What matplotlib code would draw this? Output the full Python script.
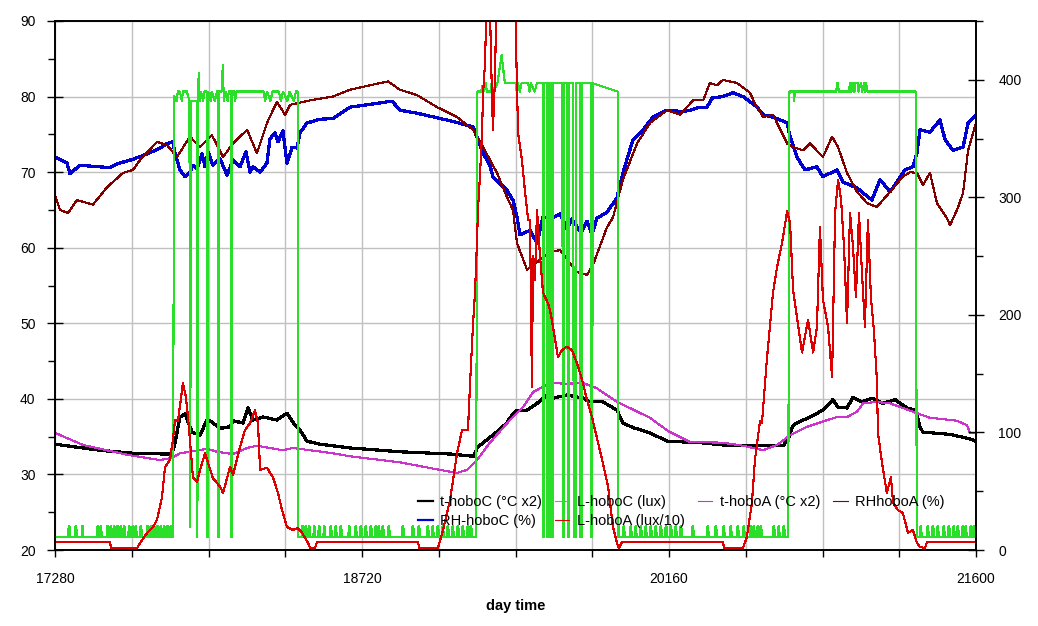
import numpy as np
import matplotlib
matplotlib.use("Agg")
import matplotlib.pyplot as plt
from matplotlib.ticker import MultipleLocator

plt.rcParams['font.family'] = ['Liberation Sans', 'DejaVu Sans']

# time in minutes (day 12 00:00 .. day 15 00:00)

# t-hoboC (degC x2) - left axis
tc_t = [17280, 17491, 17646, 17805, 17829, 17843, 17866, 17890, 17913, 17923, 17960, 17993,
        18007, 18054, 18101, 18115, 18162, 18185, 18209, 18256, 18321, 18368, 18396, 18420,
        18429, 18462, 18523, 18664, 18898, 19133, 19245, 19259, 19288, 19334, 19400, 19414,
        19447, 19494, 19541, 19588, 19616, 19681, 19756, 19789, 19850, 19916, 19944, 19991,
        20071, 20151, 20306, 20413, 20573, 20695, 20719, 20742, 20760, 20821, 20882, 20929,
        20953, 20995, 21023, 21065, 21112, 21164, 21220, 21276, 21318, 21337, 21351, 21478,
        21558, 21600]
tc_v = [34.0, 33.2, 32.8, 32.7, 32.7, 34.2, 37.6, 38.0, 36.3, 35.6, 35.2, 37.2,
        37.1, 36.1, 36.3, 37.1, 36.8, 38.8, 37.2, 37.6, 37.2, 38.1, 36.9, 36.1,
        35.9, 34.4, 34.0, 33.5, 33.0, 32.7, 32.4, 33.5, 34.2, 35.2, 36.8, 37.5,
        38.5, 38.5, 39.4, 40.5, 40.1, 40.5, 40.1, 39.6, 39.6, 38.5, 36.8, 36.2,
        35.5, 34.4, 34.2, 33.9, 33.8, 33.8, 34.6, 36.5, 36.8, 37.6, 38.5, 39.9,
        38.9, 38.8, 40.2, 39.6, 40.1, 39.4, 39.9, 38.8, 38.5, 36.3, 35.6, 35.3,
        34.8, 34.4]

# RH-hoboC (%) - left axis
rhc_t = [17280, 17336, 17350, 17397, 17491, 17538, 17571, 17646, 17712, 17773, 17805, 17833,
         17843, 17866, 17890, 17913, 17927, 17946, 17970, 17984, 17998, 18021, 18054, 18087,
         18115, 18148, 18176, 18195, 18209, 18242, 18274, 18288, 18312, 18326, 18349, 18368,
         18392, 18415, 18429, 18462, 18523, 18584, 18664, 18790, 18861, 18898, 18978, 19133,
         19241, 19250, 19288, 19320, 19334, 19400, 19428, 19447, 19461, 19508, 19541, 19569,
         19602, 19649, 19681, 19705, 19747, 19775, 19799, 19822, 19869, 19916, 19944, 19991,
         20038, 20085, 20151, 20226, 20259, 20306, 20338, 20362, 20413, 20460, 20507, 20573,
         20601, 20667, 20714, 20728, 20760, 20798, 20854, 20882, 20948, 20976, 21042, 21112,
         21150, 21197, 21267, 21304, 21323, 21337, 21384, 21431, 21455, 21492, 21539, 21563,
         21600]
rhc_v = [72.0, 71.2, 69.8, 70.9, 70.7, 70.6, 71.1, 71.7, 72.4, 73.2, 73.8, 74.0,
         72.5, 70.3, 69.4, 70.0, 70.9, 70.5, 72.4, 70.7, 72.7, 70.9, 71.8, 69.6,
         71.6, 70.7, 72.7, 70.0, 70.7, 70.0, 71.2, 74.4, 75.2, 74.0, 75.5, 71.2,
         73.3, 73.2, 75.2, 76.5, 77.0, 77.1, 78.6, 79.1, 79.4, 78.2, 77.8, 76.8,
         76.0, 75.3, 72.5, 70.9, 69.4, 67.6, 66.3, 64.1, 61.7, 62.3, 60.6, 64.1,
         63.8, 64.5, 62.5, 63.8, 62.0, 63.5, 61.8, 63.9, 64.7, 66.6, 69.9, 74.3,
         75.6, 77.3, 78.2, 78.0, 78.2, 78.6, 78.6, 79.8, 80.0, 80.5, 80.0, 78.6,
         77.6, 77.1, 76.5, 74.7, 72.0, 70.3, 70.7, 69.4, 70.3, 68.7, 67.9, 66.3,
         69.0, 67.4, 70.3, 70.7, 72.5, 75.6, 75.3, 76.9, 74.3, 72.9, 73.3, 76.5,
         77.6]

# t-hoboA (degC x2) - left axis
ta_t = [17280, 17411, 17618, 17773, 17829, 17866, 17913, 17993, 18040, 18115, 18181, 18227,
        18349, 18396, 18584, 18664, 18898, 19086, 19166, 19212, 19259, 19320, 19414, 19475,
        19522, 19602, 19681, 19756, 19822, 19916, 20071, 20118, 20165, 20259, 20413, 20507,
        20601, 20667, 20728, 20807, 20882, 20948, 20995, 21042, 21070, 21135, 21197, 21257,
        21323, 21384, 21511, 21558, 21572, 21600]
ta_v = [35.5, 33.9, 32.6, 31.9, 32.2, 32.8, 33.0, 33.4, 33.0, 32.7, 33.5, 33.8,
        33.2, 33.5, 32.8, 32.4, 31.6, 30.6, 30.2, 30.6, 31.9, 34.2, 37.2, 38.9,
        40.9, 42.1, 42.0, 42.1, 41.4, 39.6, 37.5, 36.5, 35.6, 34.3, 34.2, 33.8,
        33.2, 33.9, 35.2, 36.3, 37.0, 37.6, 37.6, 38.3, 39.4, 39.6, 39.4, 38.8,
        38.1, 37.5, 37.1, 36.5, 35.5, 35.5]

# RHhoboA (%) - left axis
rha_t = [17280, 17303, 17341, 17383, 17458, 17524, 17599, 17646, 17679, 17758, 17805, 17852,
         17913, 17960, 18016, 18068, 18115, 18181, 18227, 18274, 18321, 18359, 18382, 18476,
         18584, 18664, 18757, 18842, 18898, 18978, 19072, 19166, 19241, 19288, 19353, 19400,
         19428, 19447, 19494, 19602, 19649, 19728, 19775, 19803, 19869, 19897, 19944, 20010,
         20071, 20151, 20212, 20273, 20320, 20352, 20385, 20413, 20479, 20540, 20563, 20601,
         20648, 20714, 20742, 20789, 20821, 20882, 20925, 20953, 20995, 21042, 21089, 21135,
         21197, 21257, 21290, 21323, 21351, 21384, 21417, 21464, 21478, 21511, 21539, 21563,
         21600]
rha_v = [67.0, 65.0, 64.6, 66.3, 65.7, 68.0, 69.9, 70.3, 71.6, 74.0, 73.6, 72.0,
         74.7, 73.3, 74.9, 72.0, 73.8, 75.6, 72.5, 76.5, 79.3, 77.6, 78.9, 79.5,
         80.0, 80.9, 81.5, 82.0, 80.9, 80.2, 78.6, 77.3, 75.6, 73.3, 69.9, 66.7,
         65.0, 60.6, 57.1, 59.4, 59.7, 56.8, 56.4, 57.7, 62.7, 64.0, 69.0, 73.8,
         76.5, 78.2, 77.6, 79.5, 79.5, 81.8, 81.5, 82.2, 81.8, 80.5, 79.1, 77.3,
         77.6, 73.8, 73.3, 72.9, 73.8, 72.0, 74.7, 73.3, 69.9, 67.4, 65.9, 65.4,
         67.4, 69.4, 70.0, 69.9, 68.3, 69.9, 65.9, 63.9, 63.0, 65.0, 67.2, 72.9,
         76.5]

# L-hoboA (lux/10) - right axis
la_t = [17280, 17538, 17543, 17665, 17679, 17712, 17740, 17758, 17782, 17796, 17819, 17833,
        17843, 17857, 17880, 17894, 17904, 17913, 17927, 17946, 17960, 17984, 17998, 18021,
        18054, 18068, 18101, 18115, 18148, 18171, 18195, 18218, 18232, 18242, 18274, 18302,
        18326, 18345, 18368, 18396, 18420, 18439, 18467, 18476, 18500, 18509, 18983, 18988,
        19076, 19100, 19133, 19166, 19189, 19217, 19227, 19241, 19250, 19259, 19264, 19274,
        19283, 19288, 19297, 19306, 19316, 19325, 19334, 19344, 19353, 19400, 19428, 19437,
        19442, 19452, 19470, 19485, 19499, 19508, 19517, 19522, 19531, 19541, 19555, 19569,
        19592, 19602, 19616, 19639, 19658, 19681, 19705, 19728, 19752, 19775, 19799, 19813,
        19850, 19874, 19897, 19916, 19925, 19939, 20413, 20418, 20507, 20525, 20549, 20563,
        20577, 20587, 20596, 20619, 20648, 20667, 20690, 20714, 20728, 20742, 20784, 20812,
        20836, 20854, 20868, 20882, 20906, 20925, 20939, 20953, 20967, 20981, 20995, 21009,
        21023, 21037, 21051, 21065, 21079, 21093, 21107, 21121, 21135, 21140, 21159, 21182,
        21201, 21211, 21234, 21257, 21281, 21304, 21323, 21337, 21361, 21370, 21600]
la_v = [6.8, 6.8, 1.7, 1.7, 6.0, 14.5, 19.6, 25.5, 45, 70.6, 76.6, 93.6,
        110.6, 110, 142, 130, 113, 93.6, 62, 58, 68, 82.5, 74, 61,
        54, 48.5, 70.6, 64, 87.6, 102, 108, 119, 108, 68, 70, 62,
        48.5, 34, 19.6, 17, 18.7, 14.5, 6, 1.7, 1.7, 6.8, 6.8, 1.7,
        1.7, 17, 42.5, 82.5, 102, 102, 142, 193, 219, 261, 289, 321,
        355, 389, 414, 480, 500, 420, 357, 402, 500, 520, 500, 480,
        434, 355, 332, 304, 281, 281, 139, 250, 230, 289, 250, 219,
        210, 204, 190, 164, 170, 173, 170, 159, 145, 128, 113, 102,
        74, 54, 19.6, 6, 1.7, 6.8, 6.8, 1.7, 1.7, 11, 40, 76.6,
        96, 110, 108, 162, 219, 241, 261, 288, 278, 221, 168, 196,
        168, 190, 275, 213, 190, 147, 287, 315, 298, 258, 193, 287,
        258, 215, 287, 236, 190, 281, 215, 187, 145, 100, 74, 48.5,
        62, 40, 34, 31.5, 14.5, 17, 6, 2.6, 1.7, 6.8, 6.8]

# L-hoboC (lux) - right axis: resting level with small blips, lit phases near 390
lc_low, lc_blip = 11, 20
lc_blips = [17342, 17374, 17405, 17476, 17491, 17522, 17538, 17553, 17569, 17585, 17600, 17624,
            17640, 17655, 17679, 17710, 17726, 17741, 17757, 17773, 17788, 17804, 17819,
            18437, 18453, 18468, 18492, 18515, 18539, 18570, 18593, 18617, 18656, 18687, 18711,
            18734, 18758, 18781, 18795, 18814, 18842, 18908, 18955, 18983, 19025, 19048, 19072,
            19095, 19119, 19142, 19166, 19189, 19213, 19227,
            19944, 19977, 20000, 20024, 20047, 20071, 20094, 20118, 20142, 20165, 20188, 20212,
            20268, 20338, 20376, 20413, 20446, 20479, 20507, 20540, 20554, 20573, 20587, 20648,
            20671, 20695,
            21337, 21370, 21394, 21417, 21445, 21469, 21492, 21511, 21534, 21548, 21572, 21586]
lc_day1_t = [17833, 17836, 17838, 17850, 17856, 17866, 17875, 17880, 17899, 17904, 17911, 17912,
             17915, 17916, 17944, 17945, 17948, 17950, 17955, 17958, 17965, 17975, 17980, 17992,
             17993, 17996, 17997, 17999, 18010, 18015, 18030, 18040, 18044, 18045, 18046, 18048,
             18049, 18062, 18067, 18072, 18080, 18090, 18095, 18105, 18106, 18109, 18110, 18120,
             18125, 18130, 18260, 18265, 18275, 18290, 18300, 18330, 18340, 18350, 18370, 18380,
             18400, 18410, 18418, 18419, 18421]
lc_day1_v = [11, 200, 386, 382, 390, 390, 382, 390, 390, 386, 382, 19.6,
             19.6, 382, 382, 11, 11, 390, 406, 382, 390, 382, 390, 390,
             11, 11, 200, 390, 382, 390, 382, 390, 390, 181, 11, 11,
             390, 390, 413, 382, 390, 382, 390, 390, 11, 11, 390, 390,
             382, 390, 390, 382, 390, 382, 390, 390, 382, 390, 382, 390,
             382, 390, 390, 200, 11]
lc_day2_t = [19255, 19258, 19261, 19280, 19283, 19290, 19300, 19306, 19322, 19328, 19336, 19355,
             19375, 19390, 19440, 19446, 19452, 19460, 19468, 19500, 19506, 19512, 19530, 19540,
             19560]
lc_day2_v = [11, 200, 390, 390, 395, 390, 397, 390, 390, 397, 390, 397,
             421, 397, 397, 390, 397, 390, 397, 397, 390, 397, 390, 397,
             397]
lc_day2_off = [(19567, 19575), (19586, 19597), (19607, 19617), (19660, 19669),
               (19683, 19692), (19711, 19724), (19743, 19753), (19793, 19802)]
lc_day2_end = 19921
lc_day3_t = [20719, 20722, 20725, 20745, 20747, 20750, 20945, 20948, 20953, 20956, 21005, 21008,
             21013, 21016, 21022, 21025, 21030, 21033, 21045, 21048, 21060, 21066, 21075, 21080,
             21085, 21090, 21318, 21320, 21322]
lc_day3_v = [11, 206, 390, 390, 382, 390, 390, 397, 397, 390, 390, 397,
             390, 397, 397, 390, 390, 397, 397, 390, 397, 390, 397, 390,
             397, 390, 390, 200, 11]


def build_lc():
    pts = [(17280, lc_low), (21600, lc_low)]
    for p in lc_blips:
        pts += [(p, lc_low), (p + 2, lc_blip), (p + 6, lc_blip), (p + 8, lc_low)]
    pts += list(zip(lc_day1_t, lc_day1_v))
    pts += list(zip(lc_day2_t, lc_day2_v))
    for a, b in lc_day2_off:
        pts += [(a, 397), (a + 1, 204), (a + 2, lc_low), (b - 2, lc_low), (b - 1, 204), (b, 397)]
    pts += [(lc_day2_end - 2, 390), (lc_day2_end - 1, 382), (lc_day2_end, 200),
            (lc_day2_end + 2, lc_low)]
    pts += list(zip(lc_day3_t, lc_day3_v))
    pts.sort(key=lambda q: q[0])
    t, v = zip(*pts)
    return np.array(t, float), np.array(v, float)


lc_t, lc_v = build_lc()

fig = plt.figure(figsize=(10.38, 6.26), dpi=100)
ax = fig.add_axes([55 / 1038, 1 - 550 / 626, 921 / 1038, 529 / 626])
ax2 = ax.twinx()

l1, = ax.plot(tc_t, tc_v, color='black', lw=1.6, label='t-hoboC (°C x2)')
l2, = ax.plot(rhc_t, rhc_v, color='#0000d0', lw=1.6, label='RH-hoboC (%)')
l5, = ax.plot(ta_t, ta_v, color='#cc33cc', lw=0.8, label='t-hoboA (°C x2)')
l6, = ax.plot(rha_t, rha_v, color='#800000', lw=0.8, label='RHhoboA (%)')
l3, = ax2.plot(lc_t, lc_v, color='#2ade2a', lw=0.8, label='L-hoboC (lux)')
l4, = ax2.plot(la_t, la_v, color='#dd0000', lw=0.8, label='L-hoboA (lux/10)')
for ln in (l1, l2, l3, l4, l5, l6):
    ln.set_antialiased(False)

ax.set_xlim(17280, 21600)
ax.set_ylim(20, 90)
ax2.set_ylim(0, 450)

ax.xaxis.set_major_locator(MultipleLocator(1440))
ax.xaxis.set_minor_locator(MultipleLocator(360))
ax.yaxis.set_major_locator(MultipleLocator(10))
ax.yaxis.set_minor_locator(MultipleLocator(5))
ax2.yaxis.set_major_locator(MultipleLocator(100))
ax2.yaxis.set_minor_locator(MultipleLocator(50))

ax.grid(True, which='major', axis='y', color='#c0c0c0', lw=1)
ax.grid(True, which='both', axis='x', color='#c0c0c0', lw=1)
ax.set_axisbelow(True)

ax.tick_params(axis='x', which='both', direction='out', length=5, width=1, pad=11, labelsize=10)
ax.tick_params(axis='y', which='major', direction='inout', length=12, width=1, pad=8, labelsize=10)
ax.tick_params(axis='y', which='minor', direction='out', length=5, width=1)
ax2.tick_params(axis='y', which='major', direction='inout', length=12, width=1, pad=10, labelsize=10)
ax2.tick_params(axis='y', which='minor', direction='out', length=5, width=1)

for a in (ax, ax2):
    for s in a.spines.values():
        s.set_linewidth(1.2)

ax.set_xlabel('day time', fontsize=10.5, fontweight='bold', labelpad=9)

handles = [l1, l2, l3, l4, l5, l6]
ax2.legend(handles=handles, labels=[h.get_label() for h in handles], ncol=4,
           loc='upper left', bbox_to_anchor=(418 / 1038, 1 - 495 / 626),
           bbox_transform=fig.transFigure, frameon=False, fontsize=10.5,
           handlelength=1.0, handletextpad=0.5, columnspacing=0.9,
           labelspacing=0.32, borderpad=0.0, borderaxespad=0.0)

fig.savefig('out.png', dpi=100)
